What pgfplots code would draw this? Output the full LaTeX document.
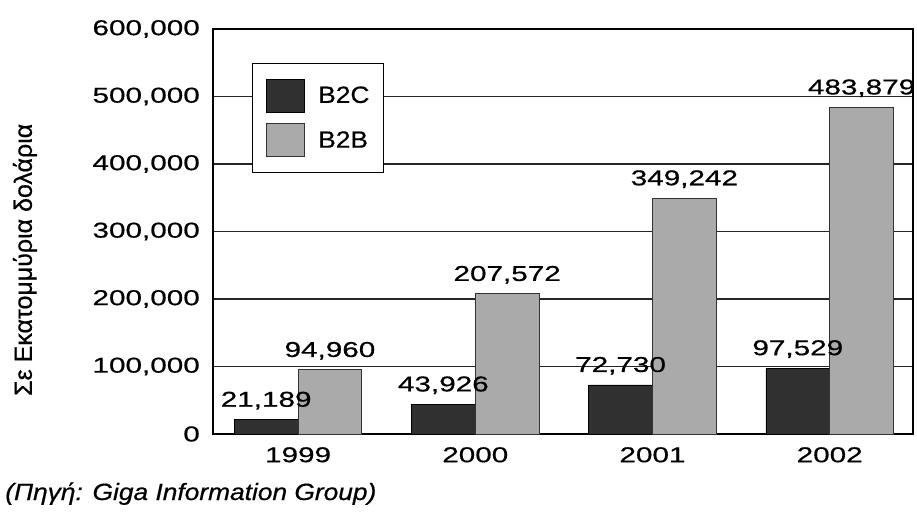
\documentclass[border=0pt]{standalone}
\usepackage{fontspec}
\setmainfont{Liberation Sans}[FakeBold=0.6]
\newfontfamily\numfont{Liberation Sans}[FakeStretch=1.38,FakeBold=0.6]
\newfontfamily\txtfont{Liberation Sans}[FakeStretch=1.12,FakeBold=0.6]
\usepackage{pgfplots}
\usepackage{pgfplotstable}
\pgfplotsset{compat=1.18}
\definecolor{bdark}{RGB}{48,48,48}
\definecolor{blight}{RGB}{170,170,170}

\pgfplotstableread{
x b2c b2b lc lb
0 21189 94960 21,189 94,960
1 43926 207572 43,926 207,572
2 72730 349242 72,730 349,242
3 97529 483879 97,529 483,879
}\datatable

\begin{document}
\begin{tikzpicture}
\begin{axis}[
  scale only axis, width=700pt, height=405pt,
  xmin=-0.48, xmax=3.47, ymin=0, ymax=600000,
  ybar, bar width=0.36,
  xtick={0,1,2,3}, xticklabels={1999,2000,2001,2002},
  ytick={0,100000,200000,300000,400000,500000,600000},
  scaled y ticks=false,
  /pgf/number format/fixed,
  /pgf/number format/1000 sep={,},
  /pgf/number format/assume math mode=true,
  major tick length=0pt,
  ymajorgrids,
  grid style={line width=1.3pt, black!85},
  axis line style={line width=1.6pt, black},
  tick label style={font=\numfont\fontsize{21.5}{25}\selectfont},
  yticklabel style={anchor=east, inner sep=0pt, xshift=-13pt},
  xticklabel style={anchor=north, inner sep=0pt, yshift=-13pt},
  ylabel={Σε Εκατομμύρια δολάρια},
  ylabel style={at={(axis description cs:-0.2686,0.43)}, anchor=center, font=\fontsize{25}{30}\selectfont},
  legend image code/.code={\draw[#1,/tikz/.cd] (0pt,-16.5pt) rectangle (38pt,16.5pt);},
  legend style={at={(axis description cs:0.0557,0.916)}, anchor=north west,
    draw=black, line width=1pt, fill=white,
    inner xsep=14pt, inner ysep=15pt, row sep=11pt, column sep=13pt,
    font=\txtfont\fontsize{23.5}{28}\selectfont,
    nodes={inner sep=0pt, anchor=west}},
  legend cell align=left,
  clip=false,
  axis background/.style={fill=white},
]
\addplot[fill=bdark, draw=black, line width=0.8pt, bar shift=-0.18] table[x=x,y=b2c]{\datatable};
\addplot[fill=blight, draw=black!80, line width=0.8pt, bar shift=0.18] table[x=x,y=b2b]{\datatable};
\legend{B2C,B2B}
\addplot[draw=none, fill=none, bar shift=-0.18, forget plot,
  point meta=explicit symbolic, nodes near coords={\pgfplotspointmeta},
  every node near coord/.append style={font=\numfont\fontsize{21.5}{25}\selectfont, text=black, inner sep=0pt, anchor=south, yshift=10pt}]
  table[x=x,y=b2c,meta=lc]{\datatable};
\addplot[draw=none, fill=none, bar shift=0.18, forget plot,
  point meta=explicit symbolic, nodes near coords={\pgfplotspointmeta},
  every node near coord/.append style={font=\numfont\fontsize{21.5}{25}\selectfont, text=black, inner sep=0pt, anchor=south, yshift=10pt}]
  table[x=x,y=b2b,meta=lb]{\datatable};
\node[anchor=base west, inner sep=0pt, font=\txtfont\itshape\fontsize{23.5}{28}\selectfont]
  at (axis description cs:-0.297,-0.163) {(Πηγή: Giga Information Group)};
\end{axis}
\pgfresetboundingbox
\path ([xshift=-213pt,yshift=-79pt]current axis.south west) rectangle ([xshift=4pt,yshift=29pt]current axis.north east);
\end{tikzpicture}
\end{document}
